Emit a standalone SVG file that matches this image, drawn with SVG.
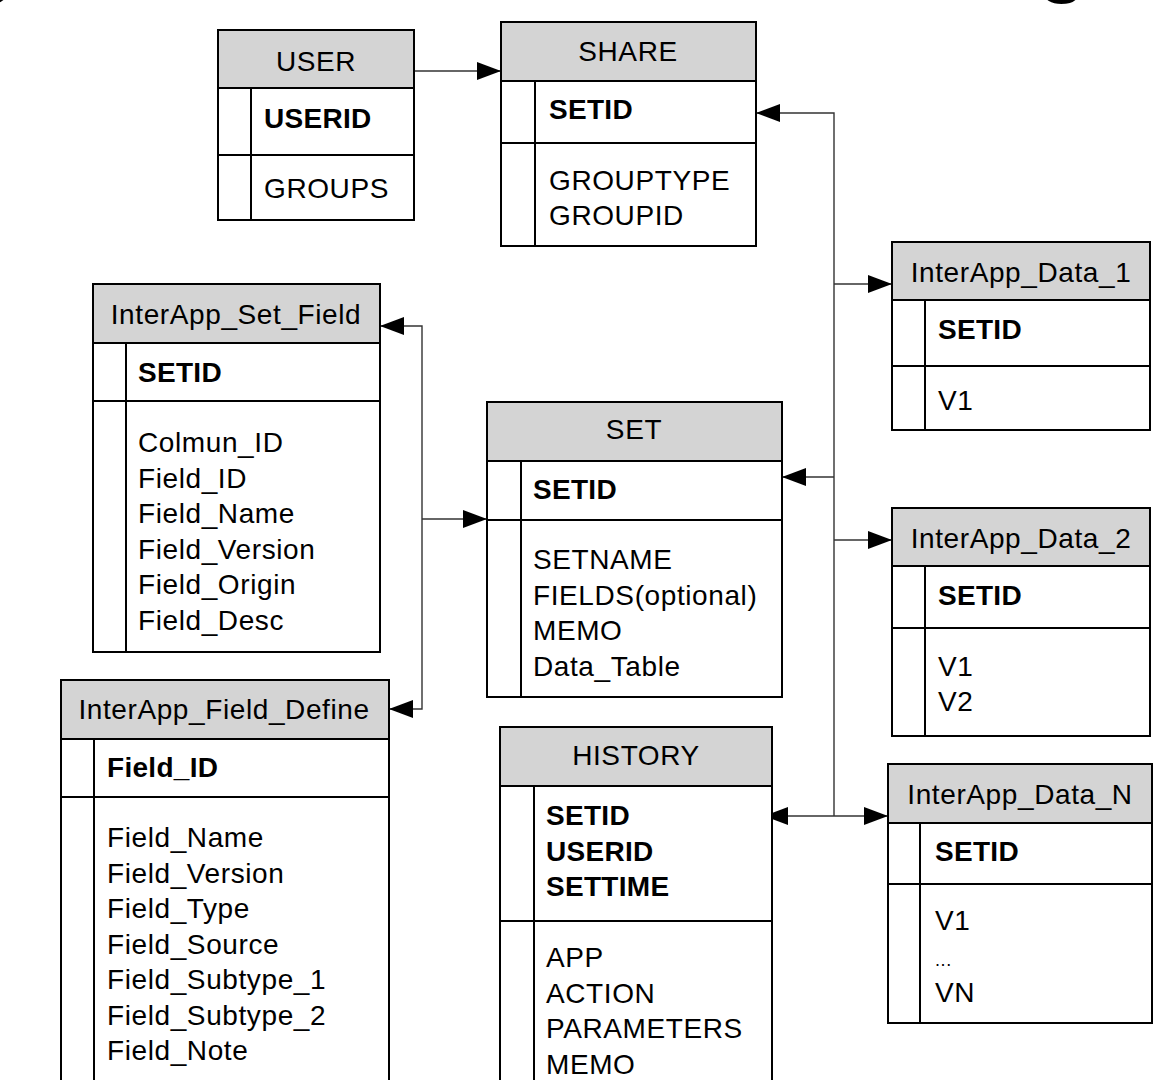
<svg xmlns="http://www.w3.org/2000/svg" width="1176" height="1080" viewBox="0 0 1176 1080">
<style>
.box{fill:#fff;stroke:#000;stroke-width:2}
.hdr{fill:#d4d4d4;stroke:#000;stroke-width:2}
.ln{stroke:#000;stroke-width:2;fill:none}
.con{stroke:#333;stroke-width:1.4;fill:none}
text{font-family:"Liberation Sans",Arial,sans-serif;font-size:28px;fill:#000;letter-spacing:0.6px}
.h{text-anchor:middle}
.b{font-weight:bold;letter-spacing:0.3px}
.tt{font-weight:bold;font-size:80px}
</style>
<defs>
<marker id="ah" markerUnits="userSpaceOnUse" markerWidth="26" markerHeight="18" refX="24" refY="9" orient="auto">
<path d="M0,0 L24,9 L0,18 Z" fill="#000"/>
</marker>
</defs>
<rect width="1176" height="1080" fill="#fff"/>
<text class="tt" x="-34" y="-13">g</text>
<text class="tt" x="1038" y="-13">g</text>

<g id="connectors">
<line class="con" x1="414" y1="71" x2="501" y2="71" marker-end="url(#ah)"/>
<polyline class="con" points="834,816 834,113 756,113" marker-end="url(#ah)"/>
<line class="con" x1="834" y1="284" x2="892" y2="284" marker-end="url(#ah)"/>
<line class="con" x1="834" y1="477" x2="782" y2="477" marker-end="url(#ah)"/>
<line class="con" x1="834" y1="540" x2="892" y2="540" marker-end="url(#ah)"/>
<line class="con" x1="834" y1="816" x2="764" y2="816" marker-end="url(#ah)"/>
<line class="con" x1="834" y1="816" x2="888" y2="816" marker-end="url(#ah)"/>
<polyline class="con" points="422,519 422,326 380,326" marker-end="url(#ah)"/>
<polyline class="con" points="422,519 422,709 389,709" marker-end="url(#ah)"/>
<line class="con" x1="422" y1="519" x2="487" y2="519" marker-end="url(#ah)"/>
</g>

<g id="USER">
<rect class="box" x="218" y="30" width="196" height="190"/>
<rect class="hdr" x="218" y="30" width="196" height="58"/>
<line class="ln" x1="218" y1="155" x2="414" y2="155"/>
<line class="ln" x1="251" y1="88" x2="251" y2="220"/>
<text class="h" x="316" y="71">USER</text>
<text class="b" x="264" y="128">USERID</text>
<text x="264" y="198">GROUPS</text>
</g>

<g id="SHARE">
<rect class="box" x="501" y="22" width="255" height="224"/>
<rect class="hdr" x="501" y="22" width="255" height="59"/>
<line class="ln" x1="501" y1="143" x2="756" y2="143"/>
<line class="ln" x1="535" y1="81" x2="535" y2="246"/>
<text class="h" x="628" y="61">SHARE</text>
<text class="b" x="549" y="119">SETID</text>
<text x="549" y="190">GROUPTYPE</text>
<text x="549" y="225">GROUPID</text>
</g>

<g id="InterApp_Set_Field">
<rect class="box" x="93" y="284" width="287" height="368"/>
<rect class="hdr" x="93" y="284" width="287" height="59"/>
<line class="ln" x1="93" y1="401" x2="380" y2="401"/>
<line class="ln" x1="126" y1="343" x2="126" y2="652"/>
<text class="h" x="236" y="324">InterApp_Set_Field</text>
<text class="b" x="138" y="382">SETID</text>
<text x="138" y="452">Colmun_ID</text>
<text x="138" y="488">Field_ID</text>
<text x="138" y="523">Field_Name</text>
<text x="138" y="559">Field_Version</text>
<text x="138" y="594">Field_Origin</text>
<text x="138" y="630">Field_Desc</text>
</g>

<g id="SET">
<rect class="box" x="487" y="402" width="295" height="295"/>
<rect class="hdr" x="487" y="402" width="295" height="59"/>
<line class="ln" x1="487" y1="520" x2="782" y2="520"/>
<line class="ln" x1="521" y1="461" x2="521" y2="697"/>
<text class="h" x="634" y="439">SET</text>
<text class="b" x="533" y="499">SETID</text>
<text x="533" y="569">SETNAME</text>
<text x="533" y="605">FIELDS(optional)</text>
<text x="533" y="640">MEMO</text>
<text x="533" y="676">Data_Table</text>
</g>

<g id="InterApp_Data_1">
<rect class="box" x="892" y="242" width="258" height="188"/>
<rect class="hdr" x="892" y="242" width="258" height="58"/>
<line class="ln" x1="892" y1="366" x2="1150" y2="366"/>
<line class="ln" x1="925" y1="300" x2="925" y2="430"/>
<text class="h" x="1021" y="282">InterApp_Data_1</text>
<text class="b" x="938" y="339">SETID</text>
<text x="938" y="410">V1</text>
</g>

<g id="InterApp_Data_2">
<rect class="box" x="892" y="508" width="258" height="228"/>
<rect class="hdr" x="892" y="508" width="258" height="58"/>
<line class="ln" x1="892" y1="628" x2="1150" y2="628"/>
<line class="ln" x1="925" y1="566" x2="925" y2="736"/>
<text class="h" x="1021" y="548">InterApp_Data_2</text>
<text class="b" x="938" y="605">SETID</text>
<text x="938" y="676">V1</text>
<text x="938" y="711">V2</text>
</g>

<g id="InterApp_Data_N">
<rect class="box" x="888" y="764" width="264" height="259"/>
<rect class="hdr" x="888" y="764" width="264" height="59"/>
<line class="ln" x1="888" y1="884" x2="1152" y2="884"/>
<line class="ln" x1="920" y1="823" x2="920" y2="1023"/>
<text class="h" x="1020" y="804">InterApp_Data_N</text>
<text class="b" x="935" y="861">SETID</text>
<text x="935" y="930">V1</text>
<text x="935" y="966" style="font-size:18px">...</text>
<text x="935" y="1002">VN</text>
</g>

<g id="HISTORY">
<rect class="box" x="500" y="727" width="272" height="370"/>
<rect class="hdr" x="500" y="727" width="272" height="59"/>
<line class="ln" x1="500" y1="921" x2="772" y2="921"/>
<line class="ln" x1="534" y1="786" x2="534" y2="1097"/>
<text class="h" x="636" y="765">HISTORY</text>
<text class="b" x="546" y="825">SETID</text>
<text class="b" x="546" y="861">USERID</text>
<text class="b" x="546" y="896">SETTIME</text>
<text x="546" y="967">APP</text>
<text x="546" y="1003">ACTION</text>
<text x="546" y="1038">PARAMETERS</text>
<text x="546" y="1074">MEMO</text>
</g>

<g id="InterApp_Field_Define">
<rect class="box" x="61" y="680" width="328" height="420"/>
<rect class="hdr" x="61" y="680" width="328" height="59"/>
<line class="ln" x1="61" y1="797" x2="389" y2="797"/>
<line class="ln" x1="94" y1="739" x2="94" y2="1100"/>
<text class="h" x="224" y="719">InterApp_Field_Define</text>
<text class="b" x="107" y="777">Field_ID</text>
<text x="107" y="847">Field_Name</text>
<text x="107" y="883">Field_Version</text>
<text x="107" y="918">Field_Type</text>
<text x="107" y="954">Field_Source</text>
<text x="107" y="989">Field_Subtype_1</text>
<text x="107" y="1025">Field_Subtype_2</text>
<text x="107" y="1060">Field_Note</text>
</g>
</svg>
